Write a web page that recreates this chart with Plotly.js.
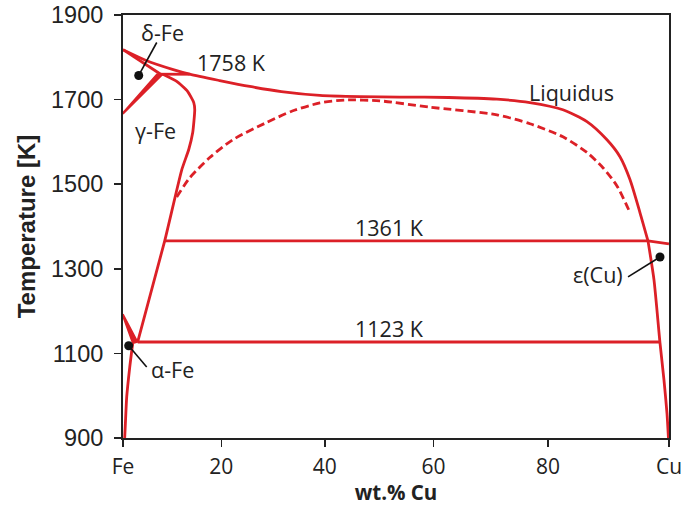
<!DOCTYPE html>
<html>
<head>
<meta charset="utf-8">
<script src="https://cdn.plot.ly/plotly-3.0.1.min.js"></script>
<style>html,body{margin:0;padding:0;background:#fff;}#chart{width:696px;height:506px;}</style>
</head>
<body>
<div id="chart"></div>
<script>
// Axis is linear in atomic % Cu; tick labels are wt.% Cu
const tickWt = [0, 20, 40, 60, 80, 100];
const tickText = ["Fe", "20", "40", "60", "80", "Cu"];
const yTicks = [900, 1100, 1300, 1500, 1700, 1900];

// Curves: x in at.% Cu, T in K
const liquidusX = [0, 4.34, 9.2, 12.22, 17.7, 23.22, 29.0, 36.05, 43.4, 50.70, 59.6, 68.48, 74.52, 80.57, 84.97, 88.64, 91.02, 92.85, 94.68, 96.15];
const liquidusT = [1818, 1792, 1771, 1760, 1745, 1731, 1719, 1710, 1707, 1706, 1705, 1701, 1693, 1676, 1648, 1605, 1565, 1511, 1433, 1366];
const cuLiquidusX = [96.15, 100];
const cuLiquidusT = [1366, 1359];
const gapX = [9.84, 12.22, 15.89, 20.10, 26.33, 31.0, 36.05, 40.63, 47.04, 56.20, 68.48, 74.52, 80.57, 84.97, 87.90, 90.47, 92.85];
const gapT = [1470, 1515, 1563, 1605, 1646, 1673, 1692, 1699, 1697, 1682, 1664, 1643, 1612, 1575, 1539, 1496, 1433];
const deltaSolidusX = [0, 6.9];
const deltaSolidusT = [1818, 1760];
const periX = [6.9, 12.22];
const periT = [1760, 1760];
const deltaGammaX = [0, 6.2, 7.3, 0];
const deltaGammaT = [1669, 1760, 1760, 1666];
const gammaX = [7.3, 9.84, 11.86, 12.96, 13.14, 12.77, 12.04, 10.76, 7.64, 2.69];
const gammaT = [1760, 1743, 1719, 1693, 1676, 1622, 1582, 1534, 1366, 1127];
const line1361X = [7.64, 96.15];
const line1361T = [1366, 1366];
const line1123X = [2.69, 98.35];
const line1123T = [1127, 1127];
const cuSolvusX = [96.15, 97.25, 98.35, 99.08, 99.63, 99.9];
const cuSolvusT = [1366, 1274, 1125, 1037, 959, 900];
const alphaGammaX = [0, 2.69, 1.78, 0];
const alphaGammaT = [1193, 1127, 1124, 1187];
const alphaSolvusX = [1.78, 1.23, 0.68, 0.44, 0.31];
const alphaSolvusT = [1124, 1067, 997, 935, 900];

// Phase labels
const dotX = [2.88, 98.35, 1.04];
const dotT = [1757, 1328, 1118];
const leadEndX = [6.18, 92.5, 4.34];
const leadEndT = [1835, 1281, 1068];
const labelText = ["δ-Fe", "1758 K", "γ-Fe", "Liquidus", "1361 K", "1123 K", "ε(Cu)", "α-Fe"];
const labelX = [7.3, 19.9, 6.0, 82.2, 48.9, 48.9, 87.0, 9.0];
const labelT = [1859, 1788, 1627, 1717, 1397, 1158, 1286, 1063];

const MFE = 55.845, MCU = 63.546;
function wtToAt(w) {
  if (w <= 0) return 0;
  if (w >= 100) return 100;
  const c = w / MCU, f = (100 - w) / MFE;
  return 100 * c / (c + f);
}

const RED = '#dc2027';
const LW = 2.8;
function ln(x, y, extra) {
  return Object.assign({x: x, y: y, mode: 'lines', type: 'scatter', hoverinfo: 'skip',
    line: {color: RED, width: LW}}, extra || {});
}

const traces = [
  ln(liquidusX, liquidusT, {line: {color: RED, width: LW, shape: 'spline', smoothing: 0.7}}),
  ln(cuLiquidusX, cuLiquidusT),
  ln(gapX, gapT, {line: {color: RED, width: LW, dash: '8px,4px', shape: 'spline', smoothing: 0.7}}),
  ln(deltaSolidusX, deltaSolidusT),
  ln(periX, periT),
  ln(deltaGammaX, deltaGammaT, {fill: 'toself', fillcolor: RED, line: {color: RED, width: 1.5}}),
  ln(gammaX, gammaT, {line: {color: RED, width: LW, shape: 'spline', smoothing: 0.5}}),
  ln(line1361X, line1361T),
  ln(line1123X, line1123T),
  ln(cuSolvusX, cuSolvusT, {line: {color: RED, width: LW, shape: 'spline', smoothing: 0.6}}),
  ln(alphaGammaX, alphaGammaT, {fill: 'toself', fillcolor: RED, line: {color: RED, width: 1.5}}),
  ln(alphaSolvusX, alphaSolvusT, {line: {color: RED, width: LW, shape: 'spline', smoothing: 0.6}})
];
for (let i = 0; i < dotX.length; i++) {
  traces.push({x: [dotX[i], leadEndX[i]], y: [dotT[i], leadEndT[i]], mode: 'lines', type: 'scatter',
    hoverinfo: 'skip', line: {color: '#111', width: 1.6}});
}
traces.push({x: dotX, y: dotT, mode: 'markers', type: 'scatter', hoverinfo: 'skip', cliponaxis: false,
  marker: {color: '#111', size: 9}});

const annotations = labelText.map((t, i) => ({
  x: labelX[i], y: labelT[i], text: t, showarrow: false, xanchor: 'center', yanchor: 'middle',
  font: {family: 'Open Sans', size: 21.5, color: '#222'}
}));

const layout = {
  width: 696, height: 506,
  margin: {l: 123, r: 27, t: 15, b: 68},
  paper_bgcolor: '#fff', plot_bgcolor: '#fff',
  showlegend: false,
  xaxis: {
    range: [0, 100], tickmode: 'array', tickvals: tickWt.map(wtToAt), ticktext: tickText,
    ticks: 'outside', ticklen: 7, tickwidth: 1.6, tickcolor: '#222',
    showline: true, linecolor: '#222', linewidth: 2, mirror: true,
    showgrid: false, zeroline: false, ticklabelstandoff: 2,
    tickfont: {family: 'Open Sans', size: 21, color: '#222'},
    title: {text: '<b>wt.% Cu</b>', font: {family: 'Open Sans', size: 20.5, color: '#222'}, standoff: 5}
  },
  yaxis: {
    range: [900, 1900], tickmode: 'array', tickvals: yTicks,
    ticks: 'outside', ticklen: 7, tickwidth: 1.6, tickcolor: '#222',
    showline: true, linecolor: '#222', linewidth: 2, mirror: true,
    showgrid: false, zeroline: false, ticklabelstandoff: 6,
    tickfont: {family: 'Liberation Sans', size: 23.5, color: '#222'},
    title: {text: '<b>Temperature [K]</b>', font: {family: 'Liberation Sans', size: 24, color: '#222'}, standoff: 9}
  },
  annotations: annotations
};

Plotly.newPlot('chart', traces, layout, {staticPlot: true, displayModeBar: false});
</script>
</body>
</html>
